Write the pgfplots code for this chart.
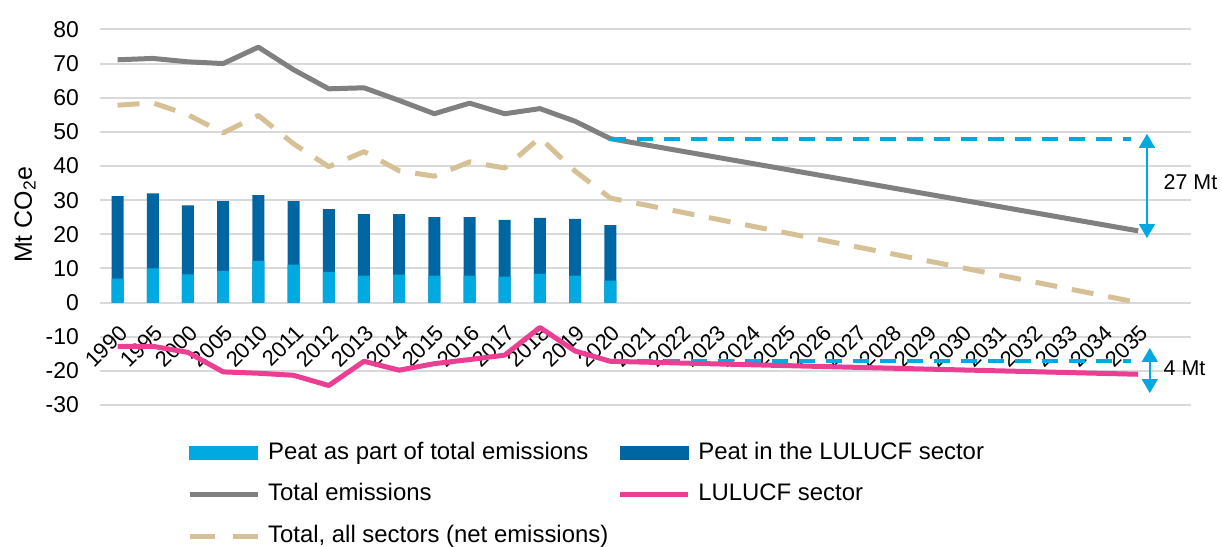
\documentclass[border=0pt]{standalone}
\usepackage{fontspec}
\setmainfont{Liberation Sans}
\usepackage{pgfplots}
\pgfplotsset{compat=1.18}
\usetikzlibrary{arrows.meta}
\definecolor{peatlight}{HTML}{00A9E0}
\definecolor{peatdark}{HTML}{0066A1}
\definecolor{totgray}{HTML}{808080}
\definecolor{lupink}{HTML}{EC3F94}
\definecolor{nettan}{HTML}{D6C095}
\definecolor{refblue}{HTML}{00A9E0}
\definecolor{gridgray}{HTML}{D9D9D9}
\begin{document}
\begin{tikzpicture}
\useasboundingbox (0,0) rectangle (1222bp,547bp);
\begin{axis}[
  at={(100bp,142bp)}, anchor=south west,
  scale only axis, width=1091bp, height=375.6bp,
  xmin=-0.5, xmax=30.5, ymin=-30, ymax=80,
  xtick={0,...,29},
  xticklabels={1990,1995,2000,2005,2010,2011,2012,2013,2014,2015,2016,2017,2018,2019,2020,2021,2022,2023,2024,2025,2026,2027,2028,2029,2030,2031,2032,2033,2034,2035},
  ytick={-30,-20,...,80},
  ymajorgrids, grid style={draw=gridgray, line width=2bp},
  axis line style={draw=none},
  major tick length=0pt,
  tick style={draw=none},
  clip=false,
  /pgf/number format/assume math mode=true,
  yticklabel style={font=\fontsize{23}{27}\selectfont, anchor=east, inner sep=0pt, xshift=-21bp},
  xticklabel style={font=\fontsize{22}{26}\selectfont, inner sep=0pt, xshift=6bp, yshift=76bp, rotate=45, anchor=east},
  every axis y label/.style={at={(axis description cs:-0.0687,0.506)}, rotate=90, anchor=center},
  ylabel={Mt CO\textsubscript{2}e},
  ylabel style={font=\fontsize{25}{29}\selectfont},
  legend columns=2,
  legend cell align=left,
  legend style={at={(axis description cs:0.0797,-0.0985)}, anchor=north west, draw=none, fill=none, inner sep=0pt,
    font=\fontsize{24}{28}\selectfont, row sep=19.5bp, column sep=8bp,
    nodes={inner sep=0pt, text height=17bp, text depth=5bp},
    /tikz/every even column/.append style={column sep=9bp}},
]
% stacked peat bars: dark = total peat (top), light = part in total emissions
\addplot[ybar, bar width=12bp, bar shift=0pt, fill=peatdark, draw=none, forget plot] coordinates {
(0,31.2) (1,32.0) (2,28.5) (3,29.7) (4,31.5) (5,29.7) (6,27.4) (7,25.9) (8,25.9) (9,25.0) (10,25.0) (11,24.2) (12,24.8) (13,24.5) (14,22.7)};
\addplot[ybar, bar width=12bp, bar shift=0pt, fill=peatlight, draw=none, forget plot] coordinates {
(0,7.0) (1,10.0) (2,8.25) (3,9.3) (4,12.2) (5,11.1) (6,9.0) (7,7.9) (8,8.2) (9,7.9) (10,7.9) (11,7.6) (12,8.4) (13,7.9) (14,6.4)};
% total emissions
\addplot[totgray, line width=5bp, line join=round, forget plot] coordinates {
(0,71.1) (1,71.5) (2,70.5) (3,70.0) (4,74.8) (5,68.2) (6,62.6) (7,62.9) (8,59.2) (9,55.3) (10,58.4) (11,55.3) (12,56.8) (13,53.1) (14,48.0) (29,21.0)};
% net emissions
\addplot[nettan, line width=5bp, line join=round, dash pattern=on 22bp off 15bp, forget plot] coordinates {
(0,57.8) (1,58.5) (2,55.0) (3,49.7) (4,54.8) (5,46.5) (6,39.8) (7,44.2) (8,38.6) (9,37.0) (10,41.2) (11,39.4) (12,48.3) (13,38.5) (14,30.6) (29,0.0)};
% reference lines
\addplot[refblue, line width=4bp, dash pattern=on 16bp off 11bp, forget plot] coordinates {(14,48) (28.8,48)};
\addplot[refblue, line width=4bp, dash pattern=on 16bp off 11bp, forget plot] coordinates {(14,-17) (28.8,-17)};
% LULUCF
\addplot[lupink, line width=5bp, line join=round, forget plot] coordinates {
(0,-12.8) (1,-12.8) (2,-14.6) (3,-20.3) (4,-20.7) (5,-21.3) (6,-24.3) (7,-17.2) (8,-19.8) (9,-17.9) (10,-16.7) (11,-15.4) (12,-7.3) (13,-14.2) (14,-17.2) (29,-21.0)};
% arrows
\addplot[refblue, line width=1.5bp, {Triangle[width=16bp,length=14bp]}-{Triangle[width=16bp,length=14bp]}, forget plot] coordinates {(29.25,49.4) (29.25,18.9)};
\addplot[refblue, line width=1.5bp, {Triangle[width=16bp,length=14bp]}-{Triangle[width=16bp,length=14bp]}, forget plot] coordinates {(29.33,-13.3) (29.33,-26.5)};
\node[anchor=west, inner sep=0pt, font=\fontsize{21.5}{25}\selectfont] at (axis cs:29.72,35.3) {27 Mt};
\node[anchor=west, inner sep=0pt, font=\fontsize{21.5}{25}\selectfont] at (axis cs:29.72,-19.15) {4 Mt};
% legend
\addlegendimage{legend image code/.code={\fill[peatlight] (0bp,-6.5bp) rectangle (68bp,6.5bp);}}
\addlegendentry{Peat as part of total emissions}
\addlegendimage{legend image code/.code={\fill[peatdark] (0bp,-6.5bp) rectangle (68bp,6.5bp);}}
\addlegendentry{Peat in the LULUCF sector}
\addlegendimage{legend image code/.code={\draw[totgray, line width=5bp] (0bp,0bp) -- (68bp,0bp);}}
\addlegendentry{Total emissions}
\addlegendimage{legend image code/.code={\draw[lupink, line width=5bp] (0bp,0bp) -- (68bp,0bp);}}
\addlegendentry{LULUCF sector}
\addlegendimage{legend image code/.code={\draw[nettan, line width=5bp, dash pattern=on 25bp off 18bp] (0bp,0bp) -- (68bp,0bp);}}
\addlegendentry{Total, all sectors (net emissions)}
\end{axis}
\end{tikzpicture}
\end{document}
